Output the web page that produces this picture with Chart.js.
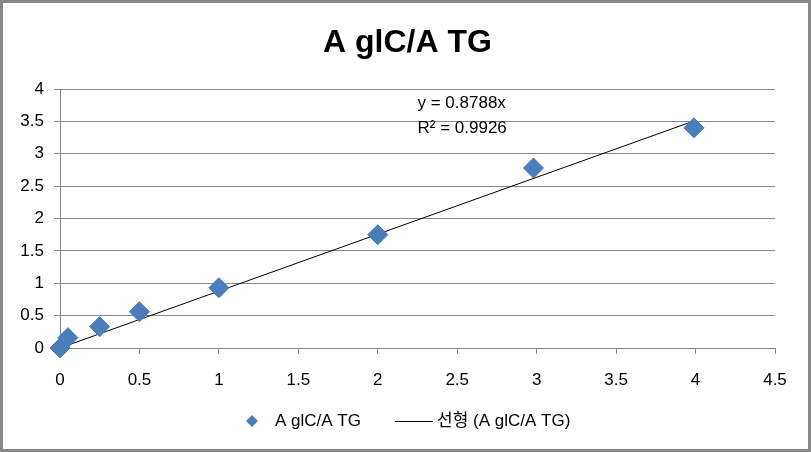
<!DOCTYPE html>
<html>
<head>
<meta charset="utf-8">
<script src="https://cdn.jsdelivr.net/npm/chart.js@4.4.0/dist/chart.umd.min.js"></script>
<style>
  body { margin: 0; background: #fff; }
  #wrap { width: 811px; height: 452px; position: relative; }
</style>
</head>
<body>
<div id="wrap"><canvas id="chart" width="811" height="452"></canvas></div>
<script>
const title = 'A glC/A TG'
const seriesName = 'A glC/A TG'
const trendName = '선형 (A glC/A TG)'
const xValues = [0, 0.05, 0.25, 0.5, 1, 2, 2.98, 3.99]
const yValues = [0, 0.16, 0.33, 0.56, 0.93, 1.75, 2.78, 3.4]
const slope = 0.8788
const rSquared = 0.9926
const trendX = [0, 3.99]

const font = "'Liberation Sans', 'Noto Sans CJK KR', sans-serif"

const points = xValues.map((x, i) => ({ x: x, y: yValues[i] }))
const trend = trendX.map(x => ({ x: x, y: slope * x }))

const extras = {
    id: 'extras',
    afterDraw(chart) {
        const c = chart.ctx
        const xs = chart.scales.x, ys = chart.scales.y
        c.save()
        // outer border
        c.strokeStyle = '#878787'
        c.lineWidth = 3
        c.strokeRect(1.5, 1.5, chart.width - 3, chart.height - 3)
        // title
        c.fillStyle = '#000'
        c.font = "bold 32px " + font
        c.textAlign = 'center'
        c.textBaseline = 'middle'
        c.fillText(title, chart.width / 2 + 2, 43)
        // trendline label
        c.font = "17px " + font
        c.textAlign = 'left'
        c.fillText('y = ' + slope + 'x', xs.getPixelForValue(2.25), ys.getPixelForValue(3.78))
        c.fillText('R² = ' + rSquared, xs.getPixelForValue(2.25), ys.getPixelForValue(3.4))
        // legend
        const ly = 421
        c.fillStyle = '#4A7EBB'
        c.beginPath()
        c.moveTo(252, ly - 6); c.lineTo(258, ly); c.lineTo(252, ly + 6); c.lineTo(246, ly)
        c.closePath(); c.fill()
        c.fillStyle = '#000'
        c.fillText(seriesName, 275, ly)
        c.strokeStyle = '#000'
        c.lineWidth = 1
        c.beginPath(); c.moveTo(395, ly + 0.5); c.lineTo(433, ly + 0.5); c.stroke()
        c.fillText(trendName, 437, ly)
        c.restore()
    }
}

const fmt = v => String(Math.round(v * 10) / 10)

new Chart(document.getElementById('chart'), {
    type: 'scatter',
    data: {
        datasets: [{
            label: seriesName,
            data: points,
            pointStyle: 'rectRot',
            pointRadius: 10,
            pointHoverRadius: 10,
            backgroundColor: '#4A7EBB',
            borderColor: '#4576B0',
            borderWidth: 1,
            clip: false
        }, {
            type: 'line',
            label: trendName,
            data: trend,
            borderColor: '#000',
            borderWidth: 1,
            pointRadius: 0,
            fill: false
        }]
    },
    options: {
        responsive: false,
        animation: false,
        layout: { padding: { left: 0, right: 36, top: 89, bottom: 0 } },
        plugins: { legend: { display: false }, title: { display: false }, tooltip: { enabled: false } },
        scales: {
            x: {
                type: 'linear', min: 0, max: 4.5,
                ticks: { stepSize: 0.5, color: '#000', font: { family: font, size: 17 }, padding: 16, maxRotation: 0, callback: fmt },
                grid: { drawOnChartArea: false, drawTicks: true, tickLength: 6, color: '#878787' },
                border: { color: '#878787' },
                afterFit(s) { s.height = 104 }
            },
            y: {
                min: 0, max: 4,
                ticks: { stepSize: 0.5, color: '#000', font: { family: font, size: 17 }, padding: 10, callback: fmt },
                grid: { color: '#878787', tickLength: 6 },
                border: { color: '#878787' },
                afterFit(s) { s.width = 60 }
            }
        }
    },
    plugins: [extras]
})
</script>
</body>
</html>
